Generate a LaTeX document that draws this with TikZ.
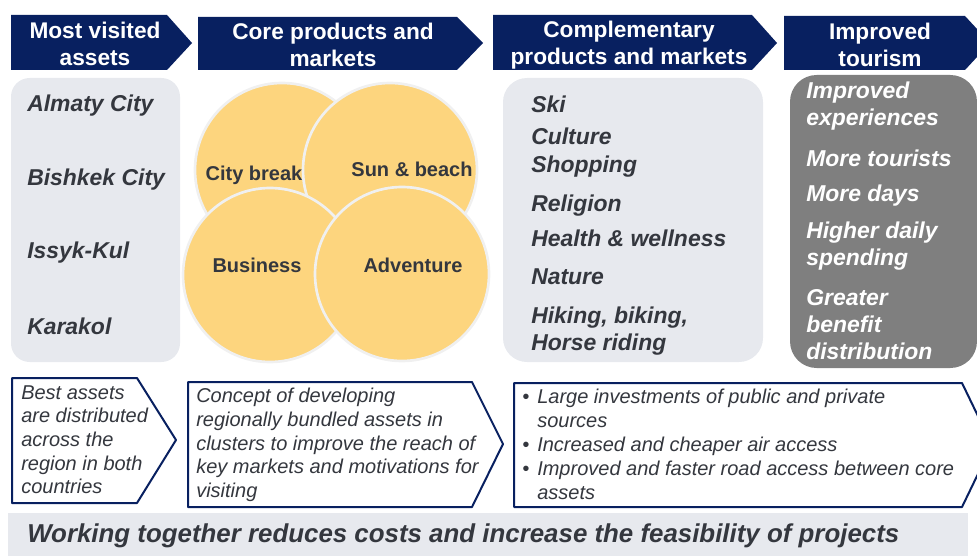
\documentclass[tikz,border=0pt]{standalone}
\usepackage{fontspec}
\setmainfont{Liberation Sans}

\definecolor{navy}{RGB}{8,32,96}
\definecolor{panel}{RGB}{231,233,238}
\definecolor{darkpanel}{RGB}{127,127,127}
\definecolor{sun}{RGB}{253,213,126}
\definecolor{txt}{RGB}{52,55,62}

\tikzset{
  head/.style={fill=navy},
  headtext/.style={text=white,align=center,inner sep=0pt,font=\bfseries\fontsize{17}{20.25}\selectfont},
  item/.style={anchor=west,inner sep=0pt,align=left,text=txt,font=\bfseries\itshape\fontsize{17.2}{20.25}\selectfont},
  gain/.style={item,text=white},
  market/.style={fill=sun,draw=white!94!black,line width=2pt},
  marketlabel/.style={inner sep=0pt,text=txt,font=\bfseries\fontsize{15}{18}\selectfont},
  note/.style={fill=white,draw=navy,line width=1.5pt,line join=round},
  notetext/.style={anchor=north west,inner sep=0pt,align=left,text=txt,font=\itshape\fontsize{15}{17.8}\selectfont}
}

\begin{document}
\begin{tikzpicture}[x=0.75pt,y=-0.75pt]
  \useasboundingbox (0,0) rectangle (977,556);
  \clip (0,0) rectangle (977,556);

  % header arrows
  \fill[head] (11,15) -- (167,15) -- (192,43) -- (167,70) -- (11,70) -- cycle;
  \fill[head] (198,17) -- (457,17) -- (483,43) -- (457,70) -- (198,70) -- cycle;
  \fill[head] (493,15) -- (752,15) -- (777,43) -- (752,70) -- (493,70) -- cycle;
  \fill[head] (784,16) -- (965,16) -- (990,43) -- (965,70) -- (784,70) -- cycle;
  \node[headtext] (h1) at (95,44) {Most visited\\assets};
  \node[headtext] (h2) at (333,45) {Core products and\\markets};
  \node[headtext] (h3) at (629,45) {Complementary\\products and markets};
  \node[headtext] (h4) at (880,45) {Improved\\tourism};

  % panels
  \fill[panel,rounded corners=14] (11,78) rectangle (180,362);
  \fill[panel,rounded corners=18] (503,78) rectangle (763,362);
  \fill[darkpanel,rounded corners=20] (790,75) rectangle (977,368);

  % most visited assets
  \node[item] (a1) at (27,106) {Almaty City};
  \node[item] (a2) at (27,180) {Bishkek City};
  \node[item] (a3) at (27,253) {Issyk-Kul};
  \node[item] (a4) at (27,326) {Karakol};

  % core products
  \filldraw[market] (282,170) circle (87);
  \filldraw[market] (390,170) circle (87);
  \filldraw[market] (270,275) circle (87);
  \filldraw[market] (402,274) circle (87);
  \node[marketlabel] (m1) at (254,175) {City break};
  \node[marketlabel] (m2) at (412,169) {Sun \& beach};
  \node[marketlabel] (m3) at (257,265) {Business};
  \node[marketlabel] (m4) at (413,265) {Adventure};

  % complementary products
  \node[item] (c1) at (531,104) {Ski};
  \node[item] (c2) at (531,136) {Culture};
  \node[item] (c3) at (531,167) {Shopping};
  \node[item] (c4) at (531,206) {Religion};
  \node[item] (c5) at (531,238) {Health \& wellness};
  \node[item] (c6) at (531,277) {Nature};
  \node[item] (c7) at (531,331) {Hiking, biking,\\Horse riding};

  % improved tourism
  \node[gain] (g1) at (806,106) {Improved\\experiences};
  \node[gain] (g2) at (806,158) {More tourists};
  \node[gain] (g3) at (806,196) {More days};
  \node[gain] (g4) at (806,246) {Higher daily\\spending};
  \node[gain] (g5) at (806,325) {Greater\\benefit\\distribution};

  % notes
  \filldraw[note] (12,378) -- (137,378) -- (176,440) -- (137,503) -- (12,503) -- cycle;
  \filldraw[note] (188,382) -- (472,382) -- (503,444) -- (472,507) -- (188,507) -- cycle;
  \filldraw[note] (514,383) -- (962,383) -- (992,445) -- (962,507) -- (514,507) -- cycle;
  \node[notetext] (n1) at (21,385) {Best assets\\are distributed\\across the\\region in both\\countries};
  \node[notetext] (n2) at (196,388) {Concept of developing\\regionally bundled assets in\\clusters to improve the reach of\\key markets and motivations for\\visiting};
  \node[notetext,font=\itshape\fontsize{15}{18}\selectfont] (n3) at (522,386) {%
    \begin{tabular}{@{}l@{\hspace{6pt}}l@{}}
      \textbullet & Large investments of public and private\\
                  & sources\\
      \textbullet & Increased and cheaper air access\\
      \textbullet & Improved and faster road access between core\\
                  & assets
    \end{tabular}};

  % banner
  \fill[panel] (8,513) rectangle (968,556);
  \node[item,font=\bfseries\itshape\fontsize{19.4}{23}\selectfont] (w) at (27,536) {Working together reduces costs and increase the feasibility of projects};
\end{tikzpicture}
\end{document}
